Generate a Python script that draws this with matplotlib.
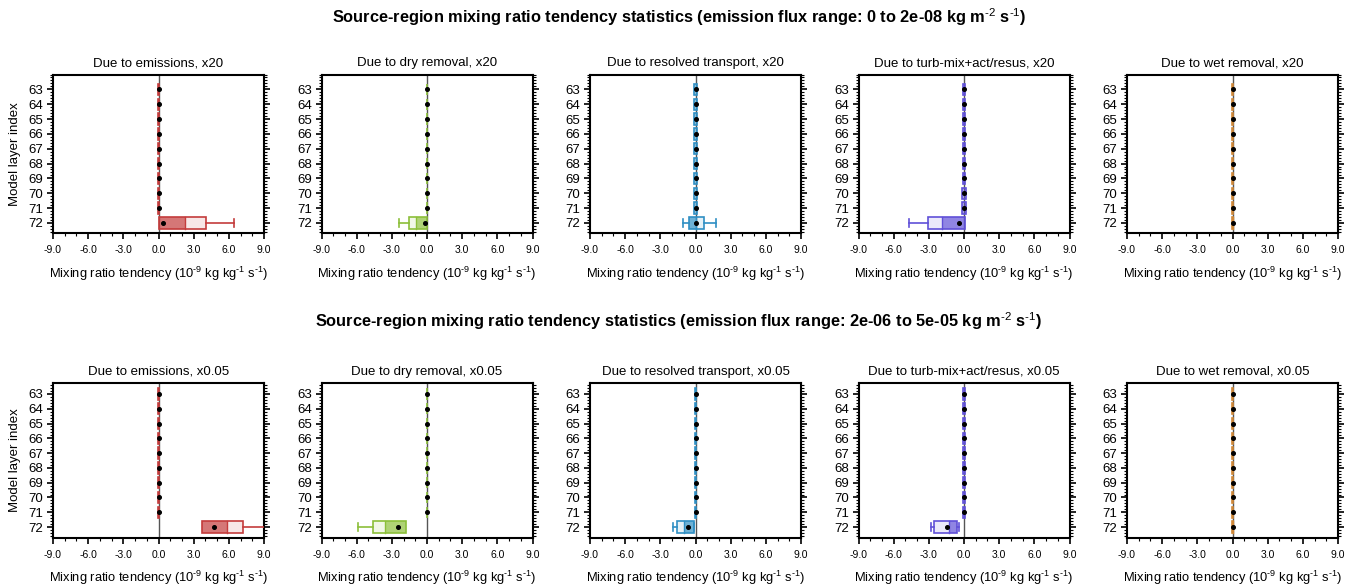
import matplotlib
matplotlib.use("Agg")
import matplotlib.pyplot as plt
from matplotlib.patches import Rectangle
from matplotlib.ticker import MultipleLocator, FormatStrFormatter

plt.rcParams['font.family'] = ['Liberation Sans', 'DejaVu Sans']
plt.rcParams['mathtext.fontset'] = 'custom'
plt.rcParams['mathtext.rm'] = 'Liberation Sans'
plt.rcParams['mathtext.it'] = 'Liberation Sans:italic'
plt.rcParams['mathtext.bf'] = 'Liberation Sans:bold'
plt.rcParams['mathtext.default'] = 'rm'

# ---------------- data ----------------
layers = [63, 64, 65, 66, 67, 68, 69, 70, 71, 72]
panel_names = ["Due to emissions", "Due to dry removal", "Due to resolved transport",
               "Due to turb-mix+act/resus", "Due to wet removal"]
row_scales = ["x20", "x0.05"]
row_titles = ["Source-region mixing ratio tendency statistics (emission flux range: 0 to 2e-08 kg m$^{\u20102}$ s$^{\u20101}$)",
              "Source-region mixing ratio tendency statistics (emission flux range: 2e-06 to 5e-05 kg m$^{\u20102}$ s$^{\u20101}$)"]
xlabel_text = "Mixing ratio tendency (10$^{\u20109}$ kg kg$^{\u20101}$ s$^{\u20101}$)"
edge_colors = ["#c43c3c", "#8cbf3a", "#2f8fc4", "#6050d8", "#d08838"]

# statistics of layer 72 (lowest layer), per row and panel:
# whisker low, box low, median, box high, whisker high, mean
top_whisk_lo = [0.0, -2.4, -1.03, -4.7, 0.0]
top_box_lo   = [0.0, -1.55, -0.53, -3.1, 0.0]
top_median   = [2.3, -0.9, 0.0, -1.85, 0.0]
top_box_hi   = [4.05, 0.0, 0.69, 0.08, 0.0]
top_whisk_hi = [6.4, 0.0, 1.74, 0.08, 0.0]
top_mean     = [0.38, -0.15, 0.0, -0.4, 0.0]

bot_whisk_lo = [3.75, -5.85, -1.9, -2.83, 0.0]
bot_box_lo   = [3.75, -4.6, -1.55, -2.6, 0.0]
bot_median   = [5.88, -3.55, -1.0, -1.3, 0.0]
bot_box_hi   = [7.24, -1.78, -0.17, -0.6, 0.0]
bot_whisk_hi = [10.5, -1.78, -0.1, -0.42, 0.0]
bot_mean     = [4.77, -2.5, -0.63, -1.44, 0.0]

# spread of the (near zero) boxes in layers 63-71, per panel
upper_spread_top = [
    [0.05] * 9,
    [0.04] * 9,
    [0.10, 0.10, 0.10, 0.10, 0.11, 0.12, 0.13, 0.14, 0.15],
    [0.08, 0.08, 0.09, 0.09, 0.10, 0.11, 0.12, 0.14, 0.15],
    [0.06] * 9,
]
upper_spread_bot = [
    [0.05] * 9,
    [0.04] * 9,
    [0.06] * 9,
    [0.06] * 9,
    [0.06] * 9,
]

rows = [
    dict(wl=top_whisk_lo, bl=top_box_lo, md=top_median, bh=top_box_hi, wh=top_whisk_hi,
         mn=top_mean, spread=upper_spread_top),
    dict(wl=bot_whisk_lo, bl=bot_box_lo, md=bot_median, bh=bot_box_hi, wh=bot_whisk_hi,
         mn=bot_mean, spread=upper_spread_bot),
]

# ---------------- layout ----------------
W, H = 1358, 585
fig = plt.figure(figsize=(W / 100, H / 100), dpi=100)

lefts = [53, 321.5, 590, 858.5, 1127]
axw = 211
row_tops = [74.5, 383.3]
row_bots = [233, 537.7]
row_ylims = [(72.68, 62.0), (72.72, 62.28)]
suptitle_y = [17, 321]

bh_half = 0.38

for r, rd in enumerate(rows):
    fig.text(0.5, 1 - suptitle_y[r] / H, row_titles[r], ha='center', va='center',
             fontsize=11.8, fontweight='bold')
    for p in range(5):
        ax = fig.add_axes([lefts[p] / W, 1 - row_bots[r] / H, axw / W,
                           (row_bots[r] - row_tops[r]) / H])
        col = edge_colors[p]
        ax.axvline(0, color='#555555', lw=1.0, zorder=1)
        # upper layers: tiny boxes around zero
        for i, lay in enumerate(layers[:-1]):
            s = rd['spread'][p][i]
            ax.add_patch(Rectangle((-s, lay - bh_half), 2 * s, 2 * bh_half,
                                   facecolor=col, alpha=0.45, edgecolor='none', zorder=2))
            ax.add_patch(Rectangle((-s, lay - bh_half), 2 * s, 2 * bh_half,
                                   facecolor='none', edgecolor=col, lw=1.2, zorder=2))
            ax.plot([0], [lay], 'o', color='black', ms=2.6, zorder=4)
        # lowest layer
        lay = layers[-1]
        wl, bl, md, bh, wh, mn = (rd['wl'][p], rd['bl'][p], rd['md'][p],
                                  rd['bh'][p], rd['wh'][p], rd['mn'][p])
        ax.add_patch(Rectangle((bl, lay - bh_half), bh - bl, 2 * bh_half,
                               facecolor=col, alpha=0.12, edgecolor='none', zorder=2))
        near = bl if abs(bl) < abs(bh) else bh
        lo, hi = min(md, near), max(md, near)
        ax.add_patch(Rectangle((lo, lay - bh_half), hi - lo, 2 * bh_half,
                               facecolor=col, alpha=0.65, edgecolor='none', zorder=2))
        if bh - bl < 0.1:
            bl2, bh2 = bl - 0.05, bh + 0.05
        else:
            bl2, bh2 = bl, bh
        ax.add_patch(Rectangle((bl2, lay - bh_half), bh2 - bl2, 2 * bh_half,
                               facecolor='none', edgecolor=col, lw=1.2, zorder=3))
        ax.plot([md, md], [lay - bh_half, lay + bh_half], color=col, lw=1.0, zorder=3)
        ax.plot([wl, bl], [lay, lay], color=col, lw=1.2, zorder=3)
        ax.plot([bh, wh], [lay, lay], color=col, lw=1.2, zorder=3)
        if bl - wl > 0.05:
            ax.plot([wl, wl], [lay - 0.25, lay + 0.25], color=col, lw=1.2, zorder=3)
        if wh - bh > 0.05 and wh < 9:
            ax.plot([wh, wh], [lay - 0.25, lay + 0.25], color=col, lw=1.2, zorder=3)
        ax.plot([mn], [lay], 'o', color='black', ms=2.6, zorder=5)

        ax.set_xlim(-9, 9)
        ax.set_ylim(*row_ylims[r])
        ax.set_yticks(layers)
        ax.yaxis.set_minor_locator(MultipleLocator(0.2))
        ax.xaxis.set_major_locator(MultipleLocator(3))
        ax.xaxis.set_minor_locator(MultipleLocator(1))
        ax.xaxis.set_major_formatter(FormatStrFormatter('%.1f'))
        ax.tick_params(axis='x', which='major', direction='out', length=4, width=1.2,
                       labelsize=7.5, pad=4.5, top=False)
        ax.tick_params(axis='x', which='minor', direction='out', length=2, width=0.8, top=False)
        ax.tick_params(axis='y', which='major', direction='out', length=4, width=1.2,
                       labelsize=9.5, pad=3, right=True)
        ax.tick_params(axis='y', which='minor', direction='out', length=2, width=0.8, right=True)
        for sp in ax.spines.values():
            sp.set_linewidth(1.5)
        ax.set_title(f"{panel_names[p]}, {row_scales[r]}", fontsize=9.5, pad=6)
        ax.set_xlabel(xlabel_text, fontsize=9.3, labelpad=7)
        if p == 0:
            ax.set_ylabel("Model layer index", fontsize=9.5)
            ax.yaxis.set_label_coords(-0.15, 0.5)

fig.savefig("out.png", dpi=100)
